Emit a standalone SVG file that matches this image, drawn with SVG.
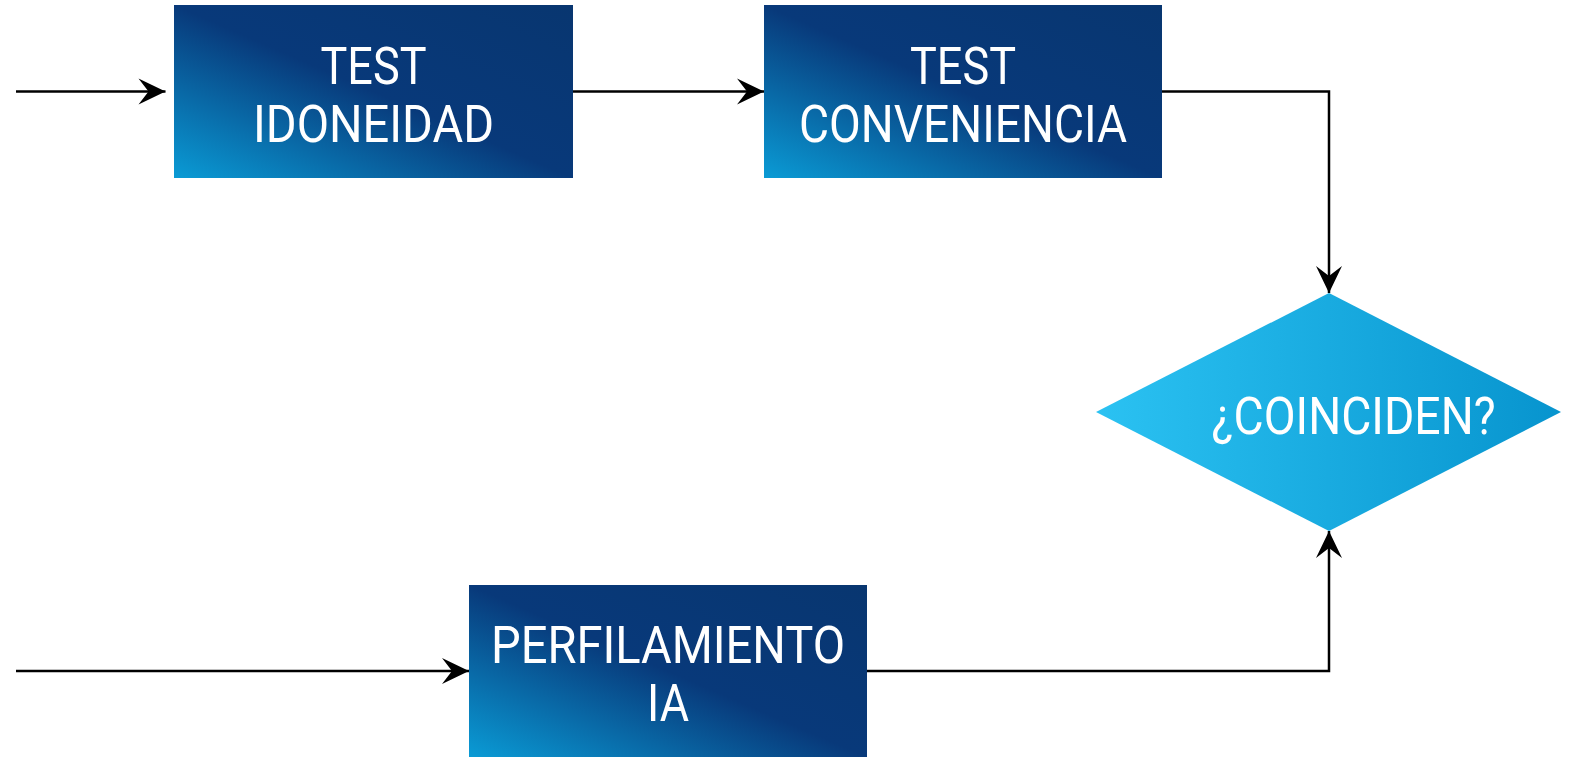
<svg xmlns="http://www.w3.org/2000/svg" width="1575" height="757" viewBox="0 0 1575 757">
<style>
.lbl{font-family:Roboto,"Open Sans","Liberation Sans",sans-serif;font-weight:400;font-size:52px;fill:#ffffff;text-anchor:middle}
.edge{fill:none;stroke:#000000;stroke-width:2.5}
</style>
<defs>
<linearGradient id="gBox" x1="0" y1="1" x2="1" y2="0">
<stop offset="0" stop-color="#0a9bd5"/>
<stop offset="0.5" stop-color="#08397a"/>
<stop offset="1" stop-color="#083670"/>
</linearGradient>
<linearGradient id="gDia" x1="0" y1="0" x2="1" y2="0">
<stop offset="0" stop-color="#2bc2f2"/>
<stop offset="1" stop-color="#0794ce"/>
</linearGradient>
<marker id="arr" markerUnits="userSpaceOnUse" viewBox="-28 -14 30 28" refX="0" refY="0" markerWidth="30" markerHeight="28" orient="auto">
<path d="M0,0 L-27,-13 L-17,0 L-27,13 Z" fill="#000000"/>
</marker>
</defs>
<g id="connectors">
<path class="edge" d="M16,91.5 H165.5" marker-end="url(#arr)"/>
<path class="edge" d="M573,91.5 H764" marker-end="url(#arr)"/>
<path class="edge" d="M1162,91.5 H1329 V293" marker-end="url(#arr)"/>
<path class="edge" d="M16,671 H469" marker-end="url(#arr)"/>
<path class="edge" d="M867,671 H1329 V531" marker-end="url(#arr)"/>
</g>
<g id="node-idoneidad">
<rect x="174" y="5" width="399" height="173" fill="url(#gBox)"/>
<text class="lbl" x="373.5" y="84.4" textLength="106" lengthAdjust="spacingAndGlyphs">TEST</text>
<text class="lbl" x="373.5" y="141.6" textLength="241" lengthAdjust="spacingAndGlyphs">IDONEIDAD</text>
</g>
<g id="node-conveniencia">
<rect x="764" y="5" width="398" height="173" fill="url(#gBox)"/>
<text class="lbl" x="963" y="84.4" textLength="106" lengthAdjust="spacingAndGlyphs">TEST</text>
<text class="lbl" x="963" y="141.6" textLength="328" lengthAdjust="spacingAndGlyphs">CONVENIENCIA</text>
</g>
<g id="node-coinciden">
<polygon points="1329,293 1561,412 1329,531 1096,412" fill="url(#gDia)"/>
<text class="lbl" x="1353.6" y="434" textLength="284" lengthAdjust="spacingAndGlyphs">¿COINCIDEN?</text>
</g>
<g id="node-perfilamiento">
<rect x="469" y="585" width="398" height="172" fill="url(#gBox)"/>
<text class="lbl" x="668" y="663" textLength="354" lengthAdjust="spacingAndGlyphs">PERFILAMIENTO</text>
<text class="lbl" x="668" y="721" textLength="42" lengthAdjust="spacingAndGlyphs">IA</text>
</g>
</svg>
